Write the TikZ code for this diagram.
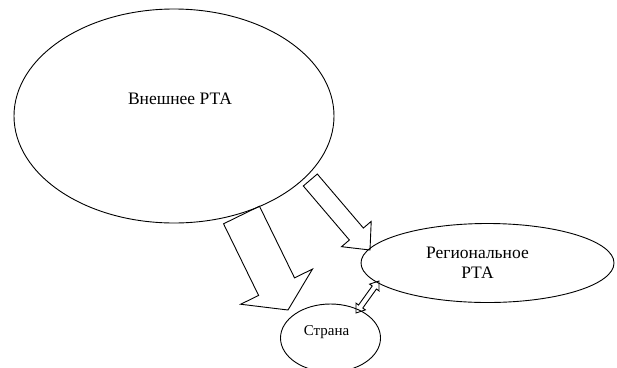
\documentclass[tikz,border=0pt]{standalone}
\usepackage{fontspec}
\setmainfont{Liberation Serif}
\newfontfamily\tnr{LiberationSerif-Regular.ttf}
\usetikzlibrary{shapes.geometric,calc}
\tikzset{
  bubble/.style={draw, ellipse, inner sep=0pt, line width=0.9pt},
  blk/.style={draw, line width=0.9pt, line join=miter},
  lbl/.style={font=\tnr\fontsize{17.5}{20}\selectfont, align=center},
}
% #1 start, #2 tip, #3 shaft half width, #4 head half width, #5 head length
\newcommand\blockarrow[5]{%
  \coordinate (bh) at ($(#2)!#5!(#1)$);
  \draw[blk] ($(#1)!#3!90:(#2)$) -- ($(bh)!#3!90:(#2)$) -- ($(bh)!#4!90:(#2)$)
    -- (#2) -- ($(bh)!#4!-90:(#2)$) -- ($(bh)!#3!-90:(#2)$) -- ($(#1)!#3!-90:(#2)$) -- cycle;
}
% double-headed hollow arrow: #1, #2 tips, #3 shaft hw, #4 head hw, #5 head length
\newcommand\doublearrow[5]{%
  \coordinate (da) at ($(#1)!#5!(#2)$);
  \coordinate (db) at ($(#2)!#5!(#1)$);
  \draw[blk] (#1) -- ($(da)!#4!90:(#2)$) -- ($(da)!#3!90:(#2)$) -- ($(db)!#3!-90:(#1)$)
    -- ($(db)!#4!-90:(#1)$) -- (#2) -- ($(db)!#4!90:(#1)$) -- ($(db)!#3!90:(#1)$)
    -- ($(da)!#3!-90:(#2)$) -- ($(da)!#4!-90:(#2)$) -- cycle;
}
\begin{document}
\begin{tikzpicture}[x=1pt,y=-1pt]
\path[use as bounding box] (0,0) rectangle (617,367);
\node[bubble, minimum width=320pt, minimum height=214pt,
  label={[lbl, xshift=6pt, yshift=17pt]center:Внешнее РТА}] (ext) at (174,116) {};
\node[bubble, minimum width=253pt, minimum height=79pt,
  label={[lbl, xshift=-10pt, yshift=0pt]center:Региональное\\РТА}] (reg) at (487.5,263) {};
\node[bubble, minimum width=100pt, minimum height=68pt,
  label={[font=\tnr\fontsize{15}{18}\selectfont, xshift=-4pt, yshift=6pt]center:Страна}] (str) at (330.5,338) {};
% block arrows
\coordinate (a1s) at (241.5,215);
\coordinate (a1e) at (288,310);
\blockarrow{a1s}{a1e}{20pt}{40pt}{26pt}
\coordinate (a2s) at (310.3,180);
\coordinate (a2e) at (370,250);
\blockarrow{a2s}{a2e}{9.2pt}{19.5pt}{21pt}
\coordinate (d1) at (356,313);
\coordinate (d2) at (379,281);
\doublearrow{d1}{d2}{2.6pt}{5.8pt}{8pt}
\end{tikzpicture}
\end{document}
